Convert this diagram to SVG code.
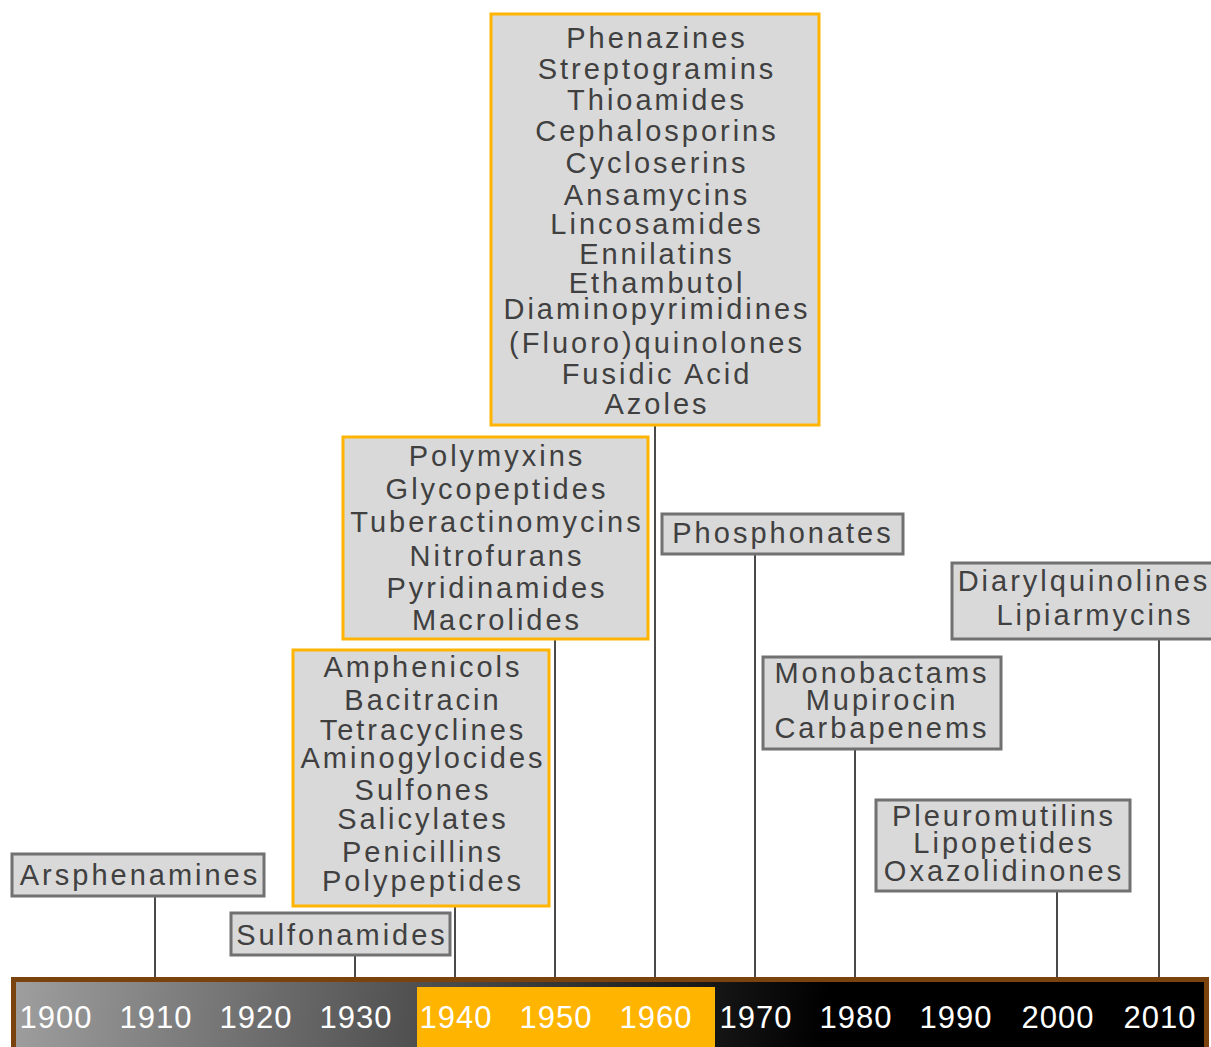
<svg xmlns="http://www.w3.org/2000/svg" width="1211" height="1047" viewBox="0 0 1211 1047">
<defs>
<linearGradient id="barGrad" gradientUnits="userSpaceOnUse" x1="16" y1="982" x2="820" y2="1070">
<stop offset="0" stop-color="#9e9e9e"/>
<stop offset="1" stop-color="#000000"/>
</linearGradient>
<style>
.box{fill:#d9d9d9;stroke:#717171;stroke-width:3}
.obox{fill:#d9d9d9;stroke:#ffb400;stroke-width:3}
.lbl{font-family:"Liberation Sans",Arial,sans-serif;font-size:29px;letter-spacing:3px;fill:#404040;text-anchor:middle}
.yr{font-family:"Liberation Sans",Arial,sans-serif;font-size:31px;letter-spacing:1px;fill:#ffffff;text-anchor:middle}
.conn line{stroke:#4a4a4a;stroke-width:2}
</style>
</defs>
<rect width="1211" height="1047" fill="#ffffff"/>
<g id="connectors" class="conn">
<line x1="155" y1="896" x2="155" y2="978"/>
<line x1="355" y1="955" x2="355" y2="978"/>
<line x1="455" y1="906" x2="455" y2="978"/>
<line x1="555" y1="638" x2="555" y2="978"/>
<line x1="655" y1="424" x2="655" y2="978"/>
<line x1="755" y1="554" x2="755" y2="978"/>
<line x1="855" y1="749" x2="855" y2="978"/>
<line x1="1057" y1="891" x2="1057" y2="978"/>
<line x1="1159" y1="639" x2="1159" y2="978"/>
</g>
<g id="timeline">
<rect x="11" y="977" width="1198" height="80" fill="#7a420c"/>
<rect x="16" y="982" width="1188" height="75" fill="url(#barGrad)"/>
<rect x="417" y="987" width="298" height="70" fill="#ffb400"/>
<g class="yr">
<text x="56" y="1028">1900</text>
<text x="156" y="1028">1910</text>
<text x="256" y="1028">1920</text>
<text x="356" y="1028">1930</text>
<text x="456" y="1028">1940</text>
<text x="556" y="1028">1950</text>
<text x="656" y="1028">1960</text>
<text x="756" y="1028">1970</text>
<text x="856" y="1028">1980</text>
<text x="956" y="1028">1990</text>
<text x="1058" y="1028">2000</text>
<text x="1160" y="1028">2010</text>
</g>
</g>
<g id="node-arsphenamines">
<rect class="box" x="12" y="854" width="252" height="42"/>
<text class="lbl" x="140" y="885">Arsphenamines</text>
</g>
<g id="node-sulfonamides">
<rect class="box" x="231" y="913" width="219" height="42"/>
<text class="lbl" x="342" y="945">Sulfonamides</text>
</g>
<g id="node-1940s">
<rect class="obox" x="293" y="650" width="256" height="256"/>
<text class="lbl" x="423" y="677">Amphenicols</text>
<text class="lbl" x="423" y="710">Bacitracin</text>
<text class="lbl" x="423" y="740">Tetracyclines</text>
<text class="lbl" x="423" y="768">Aminogylocides</text>
<text class="lbl" x="423" y="800">Sulfones</text>
<text class="lbl" x="423" y="829">Salicylates</text>
<text class="lbl" x="423" y="862">Penicillins</text>
<text class="lbl" x="423" y="891">Polypeptides</text>
</g>
<g id="node-1950s">
<rect class="obox" x="343" y="437" width="305" height="202"/>
<text class="lbl" x="497" y="466">Polymyxins</text>
<text class="lbl" x="497" y="499">Glycopeptides</text>
<text class="lbl" x="497" y="532">Tuberactinomycins</text>
<text class="lbl" x="497" y="566">Nitrofurans</text>
<text class="lbl" x="497" y="598">Pyridinamides</text>
<text class="lbl" x="497" y="630">Macrolides</text>
</g>
<g id="node-1960s">
<rect class="obox" x="491" y="14" width="328" height="411"/>
<text class="lbl" x="657" y="48">Phenazines</text>
<text class="lbl" x="657" y="79">Streptogramins</text>
<text class="lbl" x="657" y="110">Thioamides</text>
<text class="lbl" x="657" y="141">Cephalosporins</text>
<text class="lbl" x="657" y="173">Cycloserins</text>
<text class="lbl" x="657" y="205">Ansamycins</text>
<text class="lbl" x="657" y="234">Lincosamides</text>
<text class="lbl" x="657" y="264">Ennilatins</text>
<text class="lbl" x="657" y="293">Ethambutol</text>
<text class="lbl" x="657" y="319">Diaminopyrimidines</text>
<text class="lbl" x="657" y="353">(Fluoro)quinolones</text>
<text class="lbl" x="657" y="384">Fusidic Acid</text>
<text class="lbl" x="657" y="414">Azoles</text>
</g>
<g id="node-phosphonates">
<rect class="box" x="662" y="514" width="241" height="40"/>
<text class="lbl" x="783" y="543">Phosphonates</text>
</g>
<g id="node-1980s">
<rect class="box" x="763" y="657" width="238" height="92"/>
<text class="lbl" x="882" y="683">Monobactams</text>
<text class="lbl" x="882" y="710">Mupirocin</text>
<text class="lbl" x="882" y="738">Carbapenems</text>
</g>
<g id="node-2000s">
<rect class="box" x="876" y="800" width="254" height="91"/>
<text class="lbl" x="1004" y="826">Pleuromutilins</text>
<text class="lbl" x="1004" y="853">Lipopetides</text>
<text class="lbl" x="1004" y="881">Oxazolidinones</text>
</g>
<g id="node-2010s">
<rect class="box" x="952" y="563" width="264" height="76"/>
<text class="lbl" x="1084" y="591">Diarylquinolines</text>
<text class="lbl" x="1095" y="625">Lipiarmycins</text>
</g>
</svg>
